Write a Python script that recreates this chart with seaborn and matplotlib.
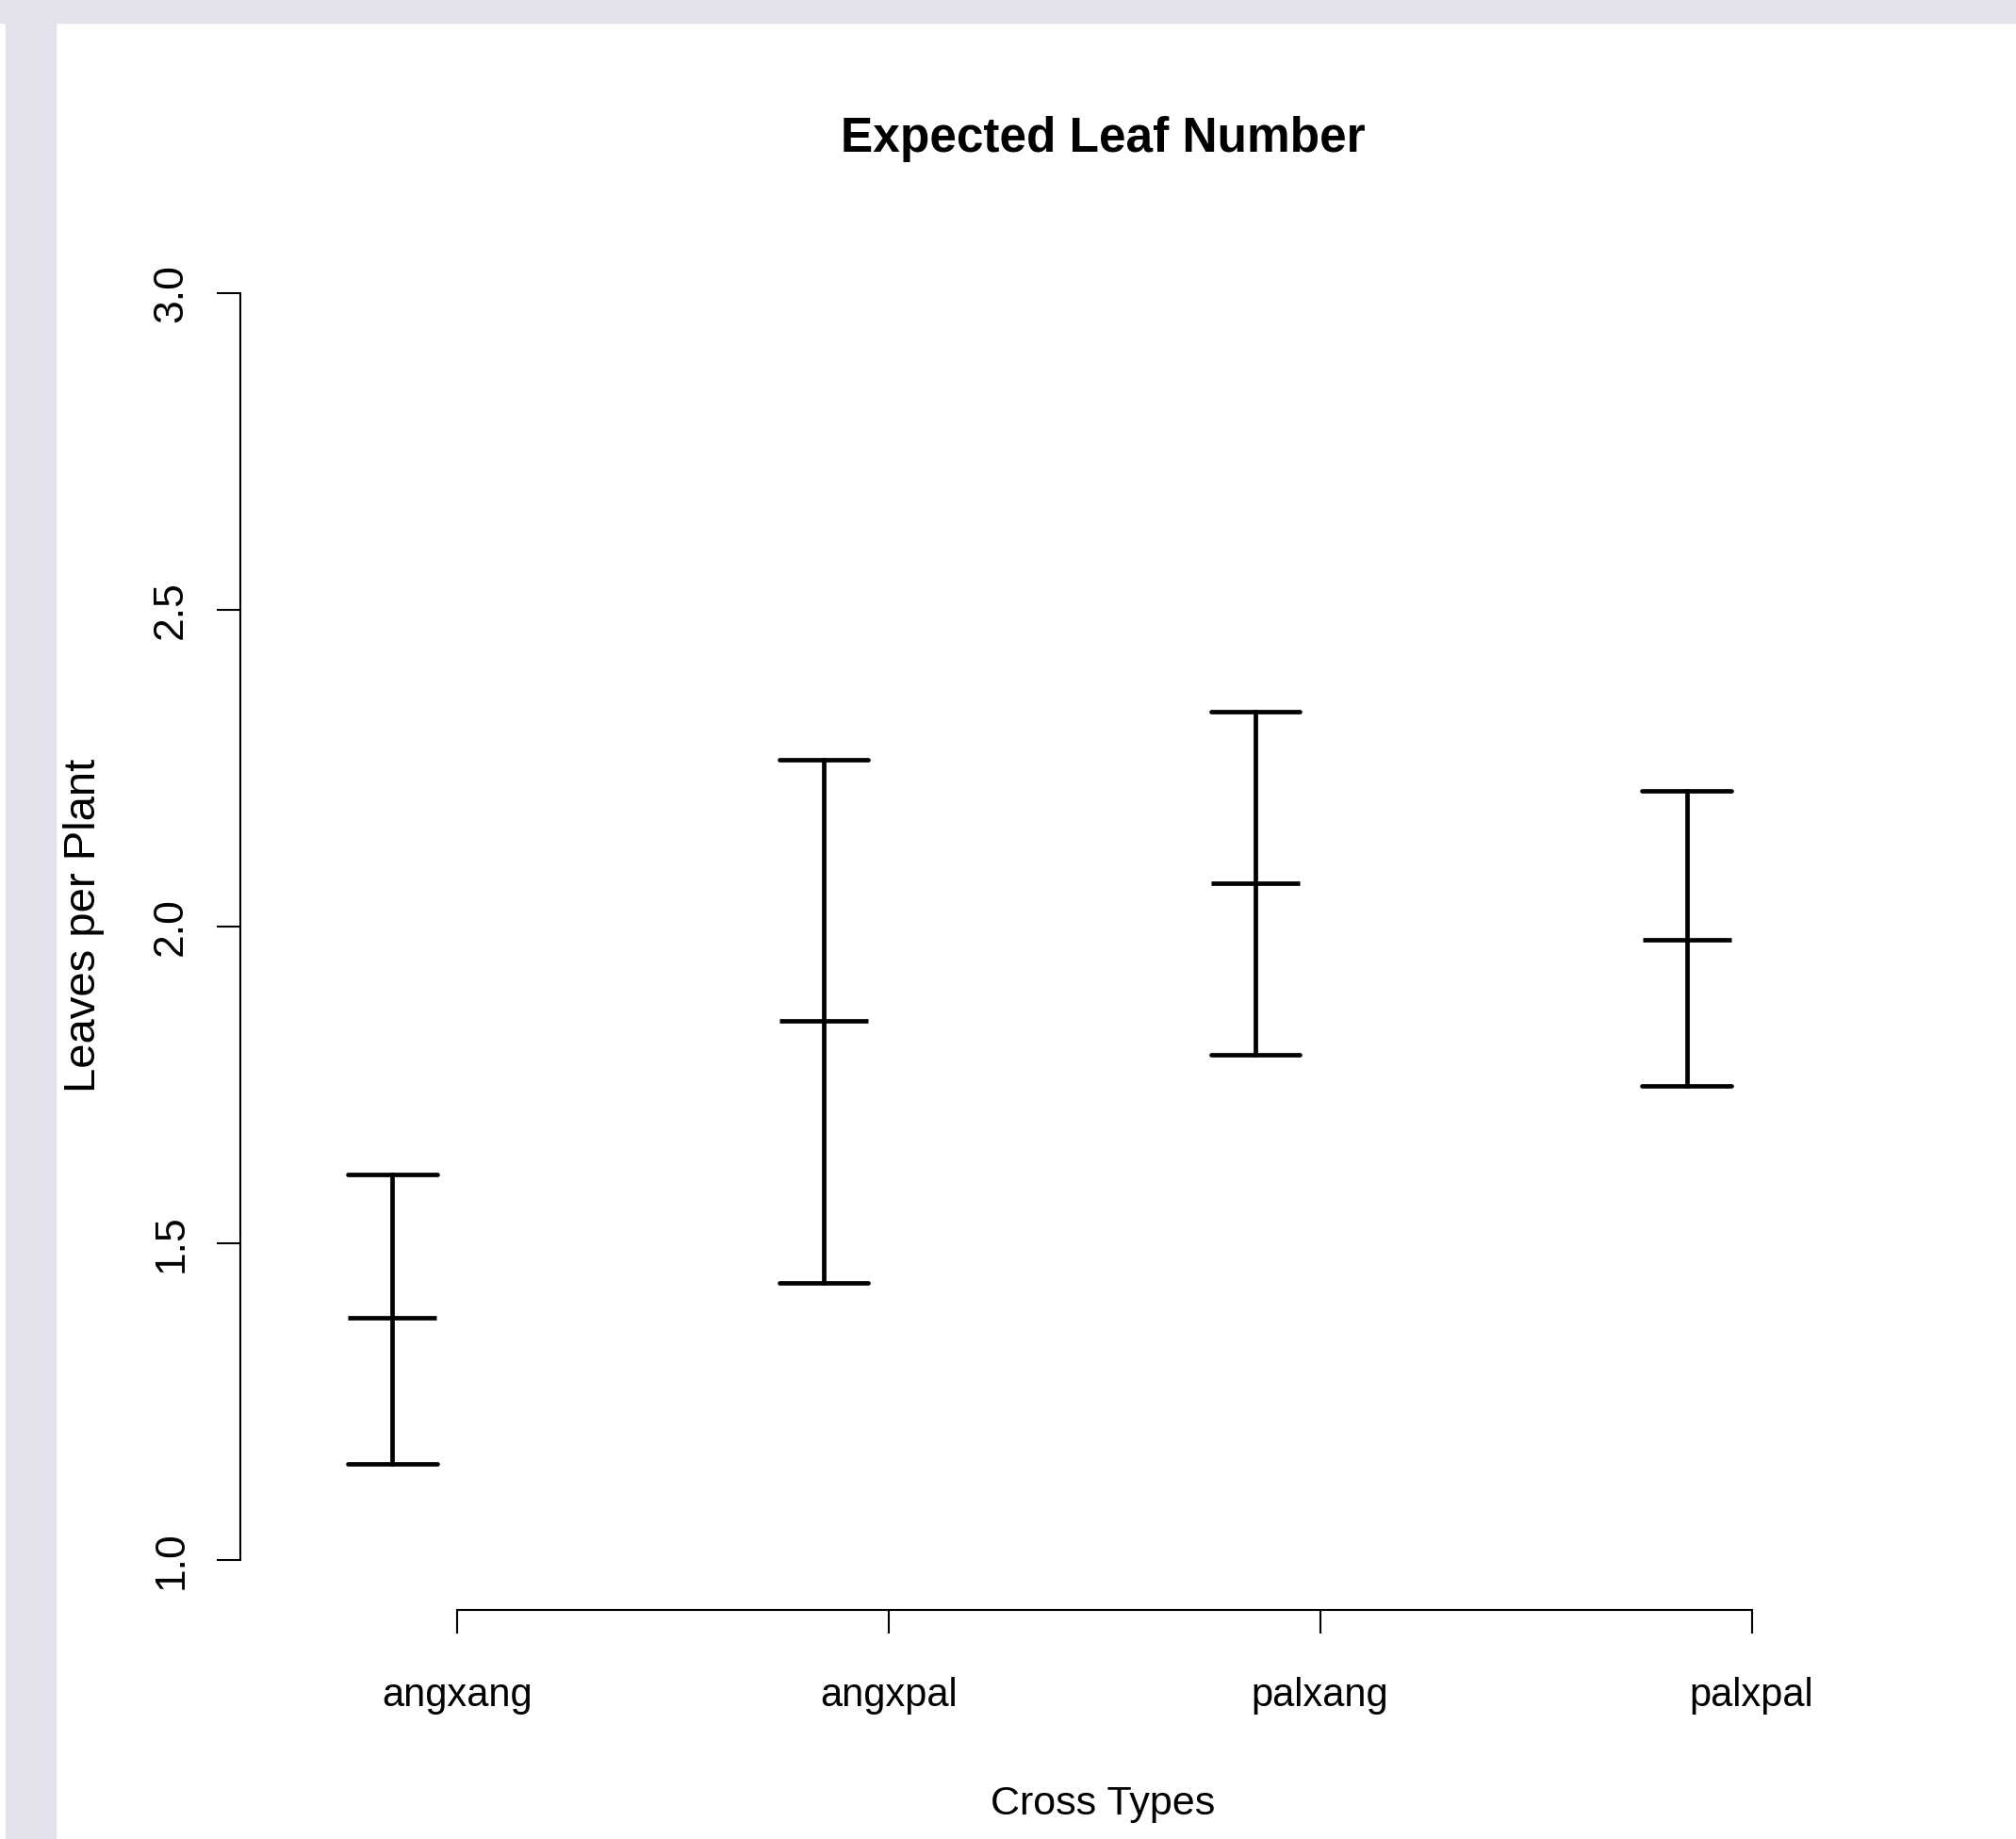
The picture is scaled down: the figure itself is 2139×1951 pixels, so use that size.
import numpy as np
import pandas as pd
import seaborn as sns
import matplotlib.pyplot as plt
from matplotlib.patches import Rectangle

# values (lower bound, centre, upper bound)
crosses = ['angxang', 'angxpal', 'palxang', 'palxpal']
lower = [1.152, 1.437, 1.798, 1.749]
centre = [1.382, 1.851, 2.068, 1.979]
upper = [1.609, 2.263, 2.340, 2.214]
y_ticks = [1.0, 1.5, 2.0, 2.5, 3.0]

rows = []
for c, lo, mi, up in zip(crosses, lower, centre, upper):
    for v in (lo, mi, up):
        rows.append({'cross': c, 'value': v})
df = pd.DataFrame(rows)

sns.set_style('white')
plt.rcParams['font.family'] = ['Liberation Sans', 'DejaVu Sans']
plt.rcParams['text.color'] = 'black'

W, H = 2139, 1951
fig = plt.figure(figsize=(W / 100, H / 100), dpi=100)

# lavender frame from the screenshot
lav = '#e4e0ec'
fig.patches.append(Rectangle((0, 1 - 24 / H), 1, 24 / H, transform=fig.transFigure,
                             color=lav, zorder=0))
fig.patches.append(Rectangle((6 / W, 0), 53 / W, 1, transform=fig.transFigure,
                             color=lav, zorder=0))

ax = fig.add_axes([255 / W, (H - 1708) / H, 1745 / W, 1458 / H])
ax.set_facecolor('none')

sns.pointplot(data=df, x='cross', y='value', estimator='median',
              errorbar=lambda v: (v.min(), v.max()),
              capsize=0.207, color='black', linestyle='none',
              marker='_', markersize=68, markeredgewidth=3.4,
              err_kws={'linewidth': 3.4}, ax=ax)

ax.set_xlim(-0.352, 3.459)
ax.set_ylim(0.921, 3.091)

for s in ['top', 'right']:
    ax.spines[s].set_visible(False)
for s in ['left', 'bottom']:
    ax.spines[s].set_color('black')
    ax.spines[s].set_linewidth(1.5)
ax.spines['left'].set_bounds(1.0, 3.0)
ax.spines['bottom'].set_bounds(0.15, 3.15)

ax.set_yticks(y_ticks)
ax.set_yticklabels([f'{t:.1f}' for t in y_ticks], rotation=90, va='center',
                   fontsize=32)
ax.set_xticks([i + 0.15 for i in range(len(crosses))])
ax.set_xticklabels(crosses, fontsize=30)
ax.tick_params(axis='both', direction='out', length=18, width=1.5,
               color='black', labelcolor='black', bottom=True, left=True)
ax.tick_params(axis='y', pad=20)
ax.tick_params(axis='x', pad=33)

ax.set_xlabel('')
ax.set_ylabel('')
fig.text(89 / W, 1 - 982 / H, 'Leaves per Plant', rotation=90, ha='center',
         va='center', fontsize=34, color='black')
fig.text(1170 / W, 1 - 1914 / H, 'Cross Types', ha='center', va='center',
         fontsize=31, color='black')
fig.text(1170 / W, 1 - 148 / H, 'Expected Leaf Number', ha='center',
         va='center', fontsize=37, fontweight='bold', color='black')

plt.savefig('out.png', dpi=100)
